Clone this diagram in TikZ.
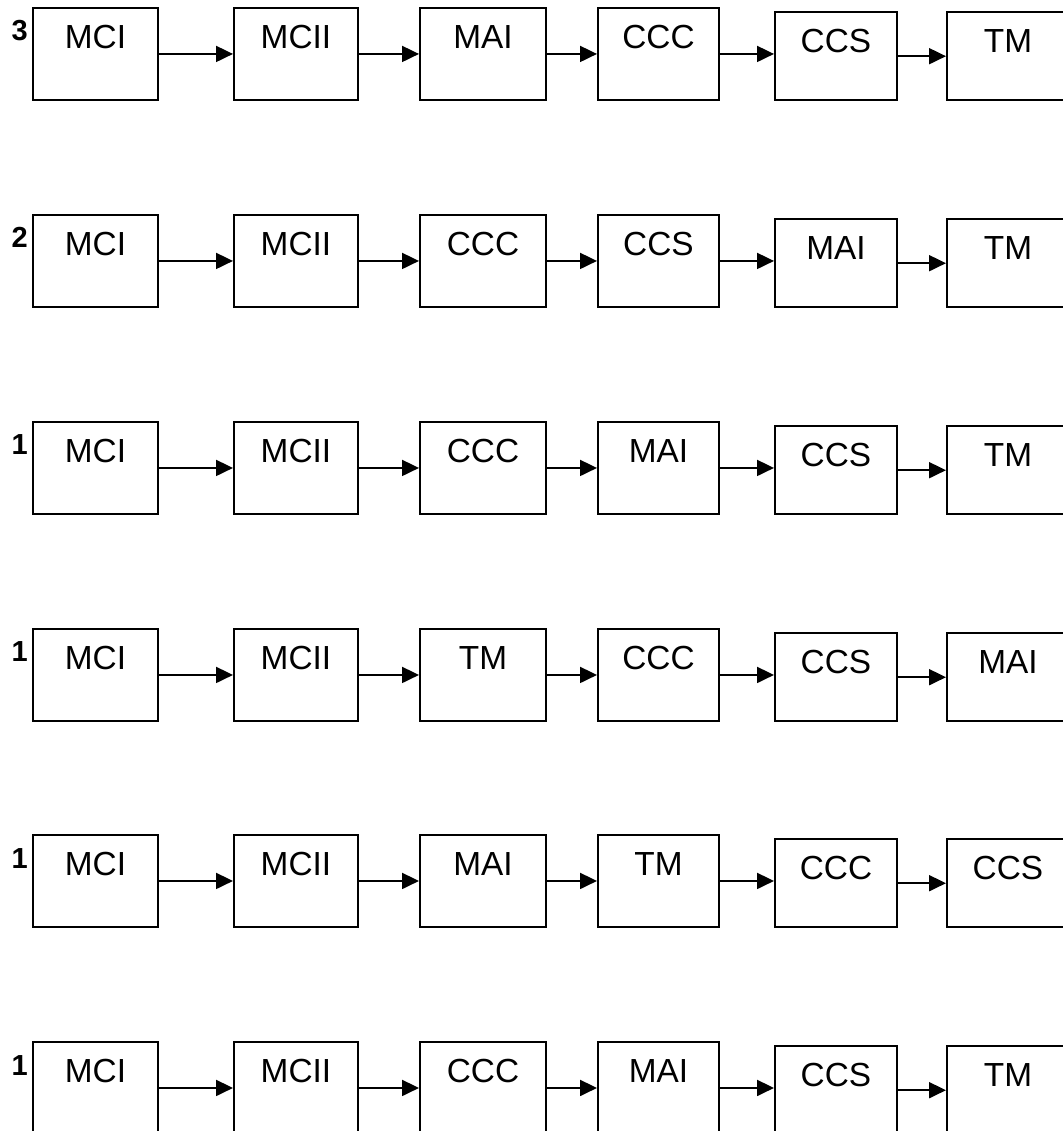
\documentclass[tikz,border=0pt]{standalone}
\usepackage{fontspec}
\setmainfont{Liberation Sans}
\usetikzlibrary{arrows.meta, positioning}
\tikzset{
    stage/.style={rectangle, draw=black, line width=1.1pt, inner sep=0pt, anchor=north west, text height=0.82cm, font=\fontsize{19}{21}\selectfont},
    fullbox/.style={stage, text depth=1.02cm},
    lowbox/.style={stage, text depth=0.95cm},
    link/.style={-{Triangle[length=0.34cm, width=0.32cm]}, line width=1.1pt},
    rank/.style={anchor=base east, inner sep=0pt, font=\fontsize{16.5}{18}\selectfont\bfseries},
}

\begin{document}
\begin{tikzpicture}[x=0.02cm, y=-0.02cm]
    \useasboundingbox (0,0) rectangle (1062,1131);
    \foreach \r/\top/\n/\a/\b/\c/\d/\e/\f in {
        1/7/3/MCI/MCII/MAI/CCC/CCS/TM,
        2/214/2/MCI/MCII/CCC/CCS/MAI/TM,
        3/421/1/MCI/MCII/CCC/MAI/CCS/TM,
        4/628/1/MCI/MCII/TM/CCC/CCS/MAI,
        5/834/1/MCI/MCII/MAI/TM/CCC/CCS,
        6/1041/1/MCI/MCII/CCC/MAI/CCS/TM}
    {
        \node[fullbox, minimum width=2.5cm] (s\r1) at (32,\top) {\a};
        \node[fullbox, minimum width=2.48cm] (s\r2) at (233,\top) {\b};
        \node[fullbox, minimum width=2.52cm] (s\r3) at (419,\top) {\c};
        \node[fullbox, minimum width=2.42cm] (s\r4) at (597,\top) {\d};
        \node[lowbox, minimum width=2.44cm] (s\r5) at (774,\top+4) {\e};
        \node[lowbox, minimum width=2.44cm] (s\r6) at (946,\top+4) {\f};
        \node[rank] (n\r) at ([xshift=-0.08cm, yshift=-0.68cm]s\r1.north west) {\n};
        \foreach \i [evaluate=\i as \j using int(\i+1)] in {1,...,5}
            \draw[link] (s\r\i.east) -- (s\r\i.east -| s\r\j.west);
    }
\end{tikzpicture}
\end{document}
